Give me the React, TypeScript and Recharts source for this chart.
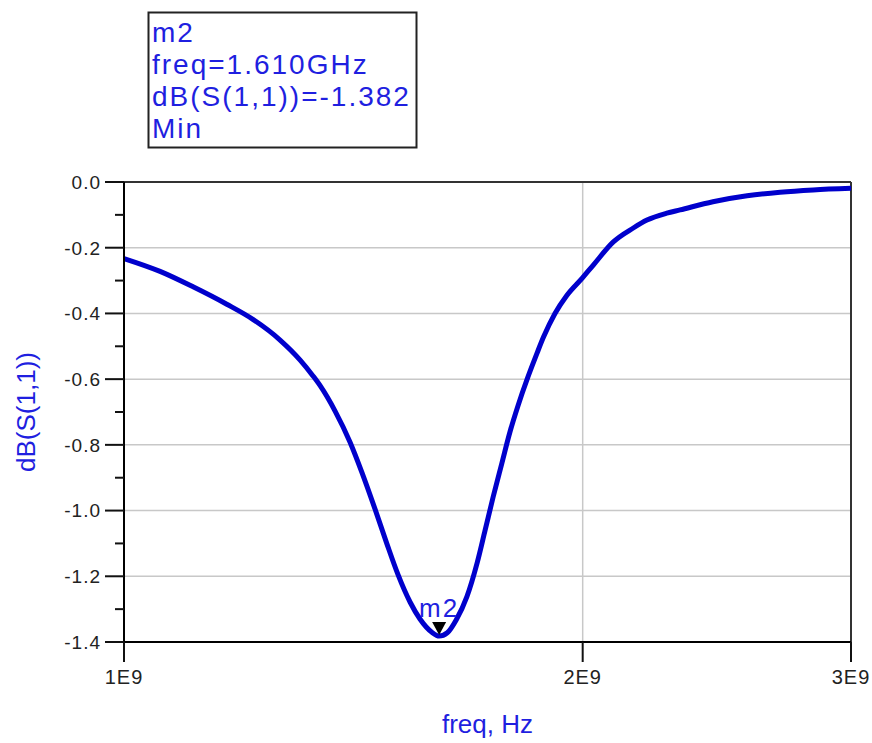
import React from 'react';
import { LineChart, Line, XAxis, YAxis, CartesianGrid, ReferenceLine, ReferenceDot } from 'recharts';

// S11 sweep (GHz / dB)
const freqGHz = [
  1.0, 1.056, 1.11, 1.168, 1.215, 1.266, 1.305, 1.331, 1.345, 1.376,
  1.407, 1.433, 1.461, 1.488, 1.513, 1.541, 1.564, 1.593, 1.61, 1.63,
  1.652, 1.679, 1.705, 1.726, 1.747, 1.77, 1.792, 1.814, 1.839, 1.852,
  1.867, 1.885, 1.918, 1.952, 2.0, 2.033, 2.094, 2.159, 2.204, 2.271,
  2.317, 2.435, 2.564, 2.695, 2.833, 3.0,
];
const s11dB = [
  -0.233, -0.272, -0.319, -0.372, -0.418, -0.481, -0.542, -0.591, -0.62, -0.698,
  -0.791, -0.885, -0.994, -1.102, -1.195, -1.279, -1.33, -1.371, -1.382, -1.372,
  -1.333, -1.262, -1.16, -1.059, -0.958, -0.856, -0.76, -0.68, -0.6, -0.562,
  -0.52, -0.472, -0.4, -0.346, -0.291, -0.252, -0.183, -0.14, -0.116, -0.095,
  -0.085, -0.06, -0.042, -0.031, -0.024, -0.019,
];

const xTicks = [1e9, 2e9, 3e9];
const yMajorTicks = [0, -0.2, -0.4, -0.6, -0.8, -1.0, -1.2, -1.4];
const yMinorTicks = [-0.1, -0.3, -0.5, -0.7, -0.9, -1.1, -1.3];

const markerName = 'm2';
const markerFreqGHz = 1.61;
const markerValue = -1.382;
const markerLines = [markerName, 'freq=1.610GHz', 'dB(S(1,1))=-1.382', 'Min'];

const data = freqGHz.map((f, i) => ({ freq: f * 1e9, s11: s11dB[i] }));

const FONT = '"Liberation Sans", Arial, sans-serif';
const BLUE_TEXT = '#1f1fe0';
const BLUE_LINE = '#0000cc';
const PLOT_LEFT = 124;

const YTick = (props: any) => {
  const { y, payload } = props;
  const major = yMajorTicks.some((t) => Math.abs(t - payload.value) < 1e-6);
  return (
    <g>
      <line x1={PLOT_LEFT - (major ? 19 : 9)} x2={PLOT_LEFT} y1={y} y2={y} stroke="#111" strokeWidth={2} />
      {major && (
        <text
          x={PLOT_LEFT - 23}
          y={y}
          dy="0.36em"
          textAnchor="end"
          fontSize={19}
          letterSpacing={1}
          fill="#222"
          fontFamily={FONT}
        >
          {Number(payload.value).toFixed(1)}
        </text>
      )}
    </g>
  );
};

const MarkerShape = (props: any) => {
  const { cx, cy } = props;
  return (
    <g>
      <polygon points={`${cx - 7},${cy - 14} ${cx + 7},${cy - 14} ${cx},${cy - 1}`} fill="#000" />
      <text x={cx} y={cy - 19} textAnchor="middle" fontSize={26} letterSpacing={2} fill={BLUE_TEXT} fontFamily={FONT}>
        {markerName}
      </text>
    </g>
  );
};

export default function App() {
  return (
    <div style={{ position: 'absolute', left: 0, top: 0, width: 872, height: 743, background: '#fff', fontFamily: FONT }}>
      <LineChart width={872} height={743} data={data} margin={{ top: 182, right: 21, bottom: 0, left: 0 }}>
        <CartesianGrid
          stroke="#c8c8c8"
          strokeWidth={1.5}
          horizontalValues={yMajorTicks}
          verticalValues={[2e9]}
        />
        <XAxis
          dataKey="freq"
          type="number"
          scale="log"
          domain={[1e9, 3e9]}
          ticks={xTicks}
          interval={0}
          allowDataOverflow
          height={101}
          tickSize={20}
          tickMargin={8}
          axisLine={{ stroke: '#000', strokeWidth: 2 }}
          tickLine={{ stroke: '#111', strokeWidth: 2 }}
          tick={{ fontSize: 20, fill: '#222', fontFamily: FONT, letterSpacing: 1 }}
          tickFormatter={(v: number) => `${Math.round(v / 1e9)}E9`}
          label={{
            content: ({ viewBox }: any) => (
              <text
                x={viewBox.x + viewBox.width / 2}
                y={viewBox.y + 91}
                textAnchor="middle"
                fontSize={26}
                fill={BLUE_TEXT}
                fontFamily={FONT}
              >
                freq, Hz
              </text>
            ),
          }}
        />
        <YAxis
          type="number"
          domain={[-1.4, 0]}
          ticks={[...yMajorTicks, ...yMinorTicks].sort((a, b) => b - a)}
          interval={0}
          allowDataOverflow
          width={124}
          tickLine={false}
          axisLine={{ stroke: '#000', strokeWidth: 2 }}
          tick={<YTick />}
          label={{
            content: ({ viewBox }: any) => {
              const lx = viewBox.x + 35;
              const ly = viewBox.y + viewBox.height / 2;
              return (
                <text
                  x={lx}
                  y={ly}
                  transform={`rotate(-90, ${lx}, ${ly})`}
                  textAnchor="middle"
                  fontSize={26}
                  fill={BLUE_TEXT}
                  fontFamily={FONT}
                >
                  dB(S(1,1))
                </text>
              );
            },
          }}
        />
        <ReferenceLine y={0} stroke="#333" strokeWidth={2} />
        <ReferenceLine x={3e9} stroke="#333" strokeWidth={2} />
        <Line
          type="monotone"
          dataKey="s11"
          stroke={BLUE_LINE}
          strokeWidth={5}
          dot={false}
          isAnimationActive={false}
        />
        <ReferenceDot x={markerFreqGHz * 1e9} y={markerValue} shape={(p: any) => <MarkerShape {...p} />} />
      </LineChart>
      <svg width={872} height={160} style={{ position: 'absolute', left: 0, top: 0, pointerEvents: 'none' }}>
        <rect x={148.5} y={12.5} width={268} height={135} fill="#fff" stroke="#222" strokeWidth={2} />
        {markerLines.map((t, i) => (
          <text key={i} x={152} y={42 + i * 32} fontSize={28} letterSpacing={2} fill={BLUE_TEXT} fontFamily={FONT}>
            {t}
          </text>
        ))}
      </svg>
    </div>
  );
}
